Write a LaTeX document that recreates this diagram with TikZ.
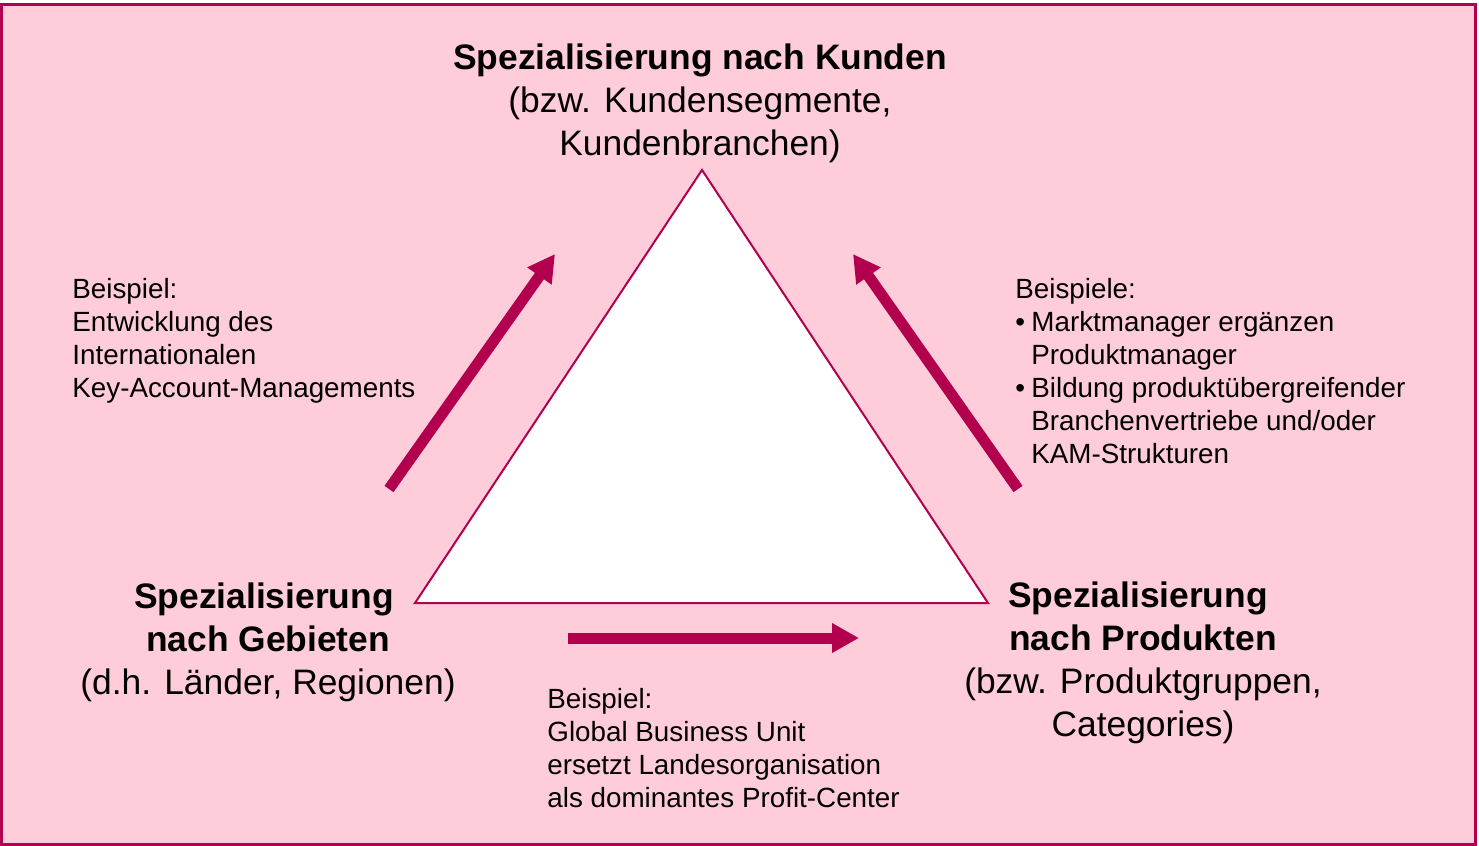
\documentclass[tikz,border=0pt]{standalone}
\usepackage{fontspec}
\setmainfont{Liberation Sans}
\usetikzlibrary{arrows.meta}
\definecolor{bgpink}{RGB}{255,204,218}
\definecolor{crim}{RGB}{178,0,78}
\tikzset{
  big/.style={font=\fontsize{17.7}{21.5}\selectfont, inner sep=0pt, align=center},
  small/.style={font=\fontsize{13.9}{16.5}\selectfont, inner sep=0pt, align=left, anchor=north west},
  fatarrow/.style={draw=crim, line width=5.5pt, -{Triangle[length=13.5pt,width=14pt]}, color=crim}
}
\begin{document}
\begin{tikzpicture}[x=0.5pt,y=-0.5pt]
\useasboundingbox (0,0) rectangle (1479,846);
\draw[line width=1.5pt, draw=crim, fill=bgpink] (1.5,4) rectangle (1475.5,844.5);
% triangle
\coordinate (apex) at (702,170);
\coordinate (bl) at (415,603);
\coordinate (br) at (988,603);
\draw[crim, line width=1pt, fill=white] (apex) -- (bl) -- (br) -- cycle;
% corner labels
\node[big, anchor=north] (kunden) at (700,43) {\textbf{Spezialisierung nach Kunden}\\(bzw. Kundensegmente,\\Kundenbranchen)};
\node[big, anchor=north] (gebiete) at (268,582) {\textbf{Spezialisierung}\hspace*{4pt}\\\textbf{nach Gebieten}\\(d.h. Länder, Regionen)};
\node[big, anchor=north] (produkte) at (1143,581) {\textbf{Spezialisierung}\hspace*{5pt}\\\textbf{nach Produkten}\\(bzw. Produktgruppen,\\Categories)};
% arrows
\coordinate (la0) at (389,489);
\coordinate (la1) at (555,254);
\coordinate (ra0) at (1018,489);
\coordinate (ra1) at (853,254);
\coordinate (ba0) at (568,638);
\coordinate (ba1) at (859,638);
\draw[fatarrow] (la0) -- (la1);
\draw[fatarrow] (ra0) -- (ra1);
\draw[fatarrow] (ba0) -- (ba1);
% examples
\node[small] (exl) at (72,278) {Beispiel:\\Entwicklung des\\Internationalen\\Key-Account-Managements};
\node[small] (exr) at (1015,278) {Beispiele:\\\makebox[8pt][l]{•}Marktmanager ergänzen\\\hspace*{8pt}Produktmanager\\\makebox[8pt][l]{•}Bildung produktübergreifender\\\hspace*{8pt}Branchenvertriebe und/oder\\\hspace*{8pt}KAM-Strukturen};
\node[small] (exb) at (547,688) {Beispiel:\\Global Business Unit\\ersetzt Landesorganisation\\als dominantes Profit-Center};
\end{tikzpicture}
\end{document}
